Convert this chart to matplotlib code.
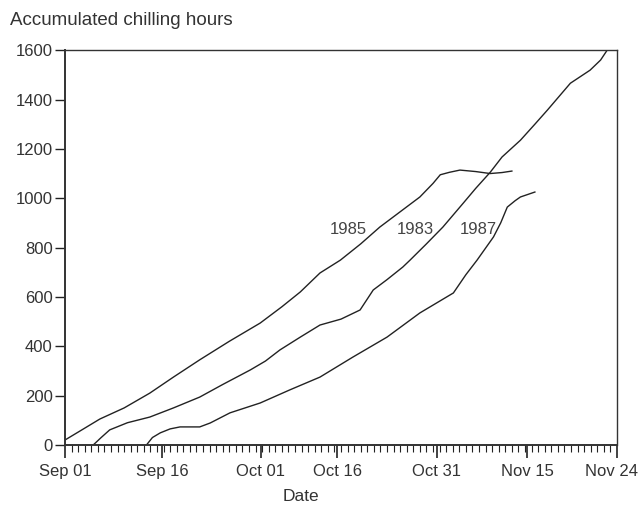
import matplotlib.pyplot as plt
import matplotlib.transforms as mtransforms
from matplotlib.ticker import MultipleLocator, FixedLocator

plt.rcParams['font.family'] = ['Liberation Sans', 'DejaVu Sans']

# days after Sep 01, accumulated chilling hours
days_1985 = [0, 2.5, 5.3, 9, 12.9, 16.5, 20.5, 25, 29.7, 33, 35.8, 38.8, 41.9, 45,
             47.9, 51, 54, 56, 57.1, 58.5, 60.1, 62.5, 64.7, 66.5, 68]
hours_1985 = [20, 60, 105, 150, 210, 275, 345, 420, 494, 560, 620, 697, 749, 815,
              883, 945, 1005, 1060, 1095, 1105, 1114, 1108, 1100, 1104, 1110]

days_1983 = [4.3, 5.5, 6.8, 9.5, 12.9, 16.5, 20.5, 24, 28.2, 30.5, 32.7, 35.8, 38.8,
             42, 44.9, 46.9, 49, 51.4, 52.5, 55, 57.5, 60.6, 62.5, 64.7, 66.5, 69.3,
             71.5, 73.4, 76.9, 79.9, 81.5, 82.5]
hours_1983 = [0, 30, 61, 90, 113, 150, 194, 245, 304, 340, 385, 437, 486, 510, 547,
              628, 670, 721, 749, 815, 883, 980, 1040, 1105, 1167, 1235, 1300, 1357,
              1466, 1519, 1560, 1600]

days_1987 = [12.4, 13.3, 14.5, 16, 17.5, 20.5, 22.1, 25.1, 29.7, 34.2, 38.8, 43.8,
             49, 54, 59.1, 61, 62.7, 65.2, 66.3, 67.3, 68.5, 69.3, 71.5]
hours_1987 = [0, 30, 49, 65, 73, 73, 89, 130, 170, 223, 275, 356, 437, 535, 616,
              690, 749, 843, 900, 964, 990, 1005, 1025]

# tick positions as drawn on the original axis
tick_days = [0, 14.8, 29.8, 41.4, 56.6, 70.3, 84]
tick_labels = ['Sep 01', 'Sep 16', 'Oct 01', 'Oct 16', 'Oct 31', 'Nov 15', 'Nov 24']

fig = plt.figure(figsize=(6.4, 5.12), dpi=100)
ax = fig.add_axes([0.1016, 0.131, 0.8625, 0.771])

col = '#222222'
for d, h in [(days_1985, hours_1985), (days_1983, hours_1983), (days_1987, hours_1987)]:
    ax.plot(d, h, color=col, lw=1.0)

ax.text(43.1, 875, '1985', fontsize=12, color='#444444', ha='center', va='center')
ax.text(53.3, 875, '1983', fontsize=12, color='#444444', ha='center', va='center')
ax.text(62.9, 875, '1987', fontsize=12, color='#444444', ha='center', va='center')

ax.set_xlim(0, 84)
ax.set_ylim(0, 1600)
ax.xaxis.set_major_locator(FixedLocator(tick_days))
ax.set_xticklabels(tick_labels)
ax.xaxis.set_minor_locator(MultipleLocator(1))
ax.yaxis.set_major_locator(MultipleLocator(200))

ax.tick_params(axis='x', which='major', direction='out', length=9, width=1.2,
               labelsize=12, labelcolor='#333333', pad=5, color=col)
ax.tick_params(axis='x', which='minor', direction='out', length=5, width=0.8, color=col)
ax.tick_params(axis='y', which='major', direction='out', length=7, width=1.0,
               labelsize=12, labelcolor='#333333', pad=2, color=col)

# keep the last date label inside the figure
last = ax.get_xticklabels()[-1]
last.set_horizontalalignment('right')
last.set_transform(last.get_transform() +
                   mtransforms.ScaledTranslation(0.21, 0, fig.dpi_scale_trans))

for s in ax.spines.values():
    s.set_color('#333333')
    s.set_linewidth(1.0)
ax.spines['bottom'].set_linewidth(1.4)
ax.spines['left'].set_linewidth(1.4)

fig.text(0.016, 0.96, 'Accumulated chilling hours', fontsize=13.5, color='#333333',
         ha='left', va='center')
fig.text(0.47, 0.03, 'Date', fontsize=12.5, color='#333333', ha='center', va='center')

fig.savefig('out.png', dpi=100)
